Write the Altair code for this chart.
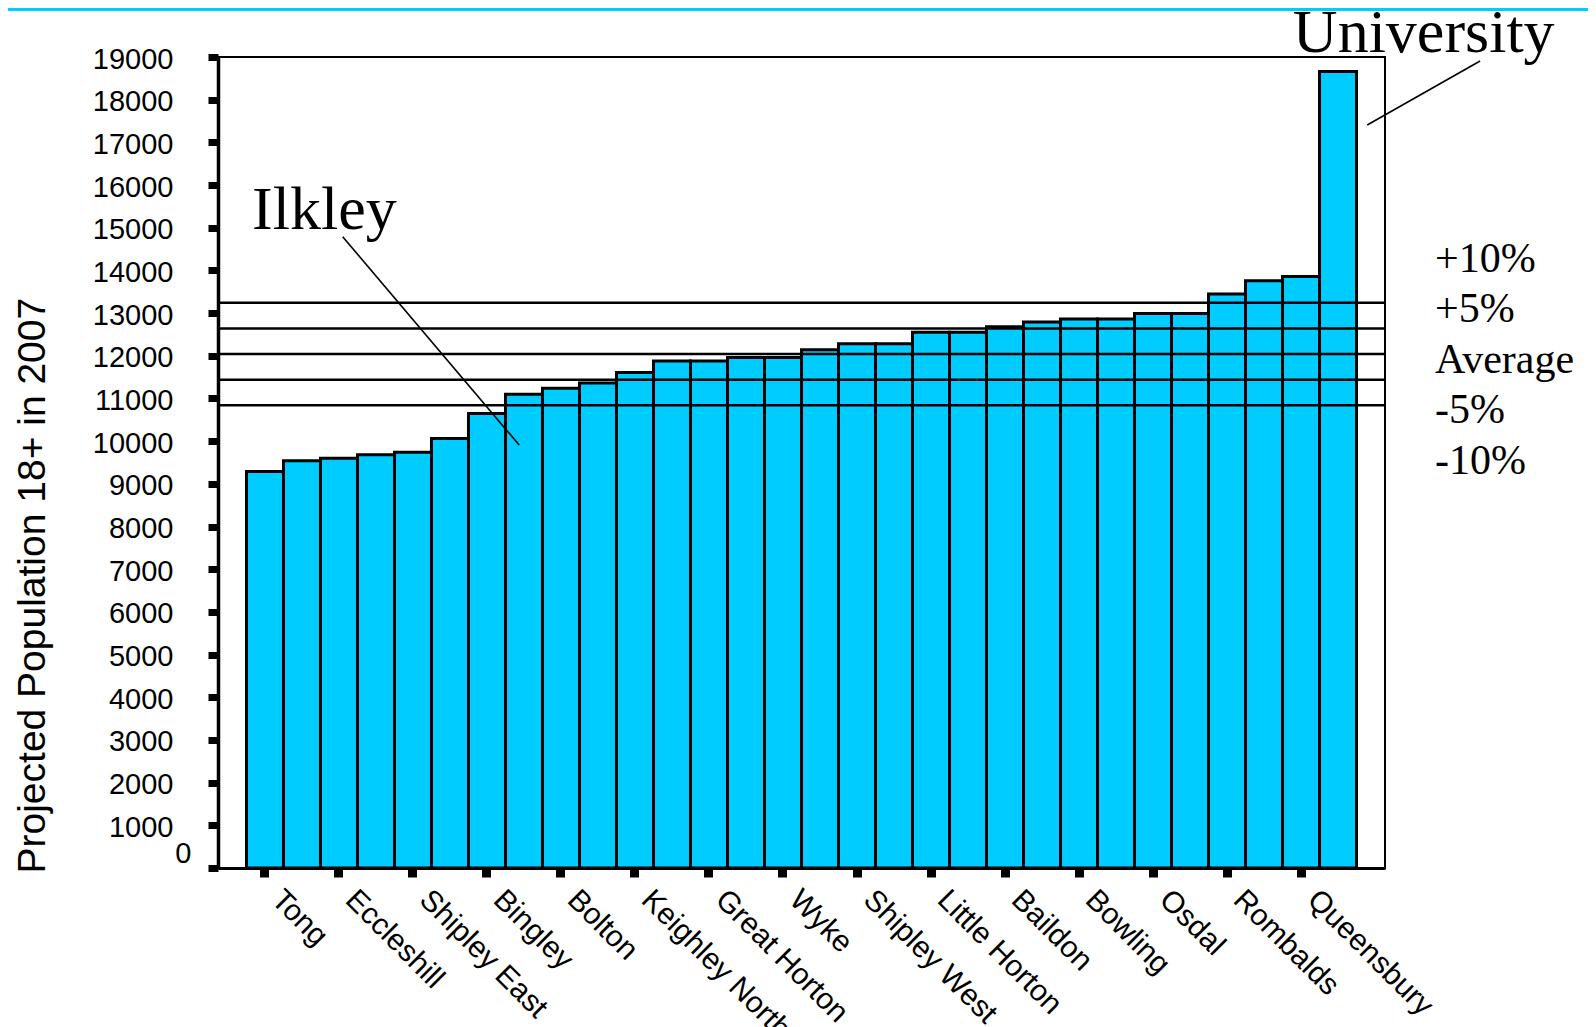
import altair as alt
import pandas as pd

# Wards in ascending order of projected 18+ population (only every other one is labelled on the axis)
wards = ["Tong", "Toller", "Eccleshill", "Bradford Moor", "Shipley East", "Keighley South",
         "Bingley", "Ilkley", "Bolton", "Keighley West", "Keighley North", "Undercliffe",
         "Great Horton", "Heaton", "Wyke", "Idle", "Shipley West", "Clayton",
         "Little Horton", "Thornton", "Baildon", "Wibsey", "Bowling", "Craven",
         "Osdal", "Worth Valley", "Rombalds", "Bingley Rural", "Queensbury", "University"]
population = [9290, 9540, 9600, 9680, 9740, 10060, 10650, 11100, 11240, 11360,
              11610, 11880, 11880, 11960, 11960, 12140, 12280, 12280, 12550, 12550,
              12680, 12790, 12860, 12860, 12990, 12990, 13450, 13760, 13860, 18660]
labelled = wards[0::2]

y_ticks = list(range(0, 19001, 1000))

# reference lines: +10%, +5%, average, -5%, -10%
ref_values = [13240, 12640, 12040, 11440, 10840]

# right-hand legend texts (position in bar-index units / population units)
pct_labels = ["+10%", "+5%", "Average", "-5%", "-10%"]
pct_u = [32.12, 32.12, 32.12, 32.12, 32.12]
pct_v = [13963, 12792, 11597, 10425, 9231]

# callout texts and leader lines
call_labels = ["Ilkley", "University"]
call_u = [0.15, 28.28]
call_v = [14963, 19117]
line_u = [2.60, 33.34]
line_u2 = [7.37, 30.29]
line_v = [14790, 18906]
line_v2 = [9910, 17407]

PAD_OUT = 0.77
yscale = alt.Scale(domain=[0, 19000], nice=False, zero=True)
uscale = alt.Scale(domain=[-PAD_OUT, 30 + PAD_OUT], nice=False, zero=False)

bars_df = pd.DataFrame({"ward": wards, "population": population})

y_axis = alt.Axis(values=y_ticks, format="d", grid=False, labelFontSize=29,
                  labelPadding={"condition": {"test": "datum.value === 0", "value": 17}, "value": 35},
                  labelOffset={"condition": {"test": "datum.value === 0", "value": -15}, "value": 2},
                  tickSize=10, tickWidth=7, domainWidth=3.5,
                  title="Projected Population 18+ in 2007", titleFontSize=39,
                  titleFont="Liberation Sans", titleFontWeight="normal", titleColor="black",
                  titleAngle=270, titleAlign="left", titleBaseline="top",
                  titleX=-205, titleY=816)

bars = alt.Chart(bars_df).mark_bar(fill="#00CCFF", stroke="black", strokeWidth=3).encode(
    x=alt.X("ward:N", sort=wards,
            scale=alt.Scale(paddingInner=0, paddingOuter=PAD_OUT),
            axis=alt.Axis(values=labelled, title=None, labelAngle=45, labelAlign="left",
                          labelBaseline="top", labelPadding=7, labelOffset=22, labelLimit=0,
                          labelFontSize=30, tickSize=9, tickWidth=9, domainWidth=3)),
    y=alt.Y("population:Q", scale=yscale, axis=y_axis),
)

rules = alt.Chart(pd.DataFrame({"v": ref_values})).mark_rule(color="black", strokeWidth=2.5).encode(
    y=alt.Y("v:Q", scale=yscale)
)

lines = alt.Chart(pd.DataFrame({"u": line_u, "u2": line_u2, "v": line_v, "v2": line_v2})).mark_rule(
    color="black", strokeWidth=1.6).encode(
    x=alt.X("u:Q", scale=uscale, axis=None),
    x2="u2:Q",
    y=alt.Y("v:Q", scale=yscale),
    y2="v2:Q",
)

callouts = alt.Chart(pd.DataFrame({"label": call_labels, "u": call_u, "v": call_v})).mark_text(
    font="Liberation Serif", fontSize=62, align="left", baseline="alphabetic", color="black").encode(
    x=alt.X("u:Q", scale=uscale, axis=None),
    y=alt.Y("v:Q", scale=yscale),
    text="label:N",
)

pcts = alt.Chart(pd.DataFrame({"label": pct_labels, "u": pct_u, "v": pct_v})).mark_text(
    font="Liberation Serif", fontSize=42, align="left", baseline="alphabetic", color="black").encode(
    x=alt.X("u:Q", scale=uscale, axis=None),
    y=alt.Y("v:Q", scale=yscale),
    text="label:N",
)

stripe = alt.Chart(pd.DataFrame({"a": [0]})).mark_rect(color="#00CCFF").encode(
    x=alt.value(-210), x2=alt.value(1372), y=alt.value(-49), y2=alt.value(-46)
)

chart = alt.layer(bars, stripe, rules, lines, callouts, pcts).resolve_scale(
    x="independent"
).properties(
    width=1167, height=811,
    padding={"left": 210, "top": 49, "right": 203, "bottom": 159},
    autosize=alt.AutoSizeParams(type="none"),
    background="white",
).configure_view(
    stroke="black", strokeWidth=2
).configure_axis(
    labelFont="Liberation Sans", labelColor="black", domainColor="black", tickColor="black"
)

chart.save("out.html", embed_options={"renderer": "svg", "actions": False})
